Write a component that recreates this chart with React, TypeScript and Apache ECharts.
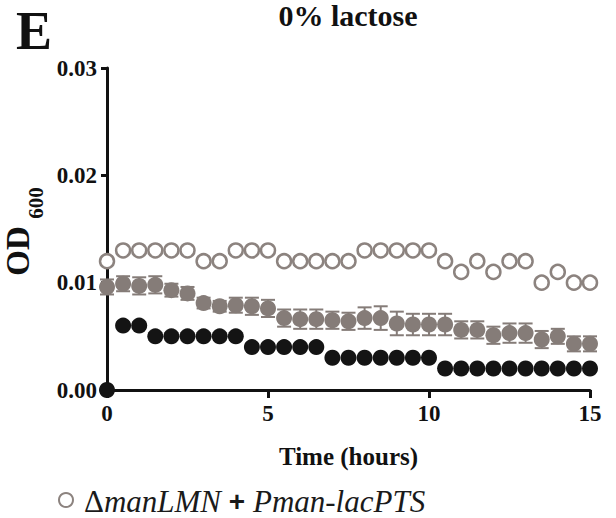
import React, { useEffect, useRef } from "react";
import * as echarts from "echarts";

const hours = [0, 0.5, 1, 1.5, 2, 2.5, 3, 3.5, 4, 4.5, 5, 5.5, 6, 6.5, 7, 7.5, 8, 8.5, 9, 9.5, 10, 10.5, 11, 11.5, 12, 12.5, 13, 13.5, 14, 14.5, 15];

const openValues = [0.012, 0.013, 0.013, 0.013, 0.013, 0.013, 0.012, 0.012, 0.013, 0.013, 0.013, 0.012, 0.012, 0.012, 0.012, 0.012, 0.013, 0.013, 0.013, 0.013, 0.013, 0.012, 0.011, 0.012, 0.011, 0.012, 0.012, 0.010, 0.011, 0.010, 0.010];

const grayMeans = [0.0096, 0.0099, 0.0097, 0.0098, 0.0093, 0.009, 0.0081, 0.0078, 0.0079, 0.0078, 0.0076, 0.0067, 0.0066, 0.0066, 0.0065, 0.0064, 0.0067, 0.0067, 0.0062, 0.0061, 0.0061, 0.0061, 0.0056, 0.0056, 0.0051, 0.0053, 0.0053, 0.0047, 0.005, 0.0043, 0.0043];

const grayErrors = [0.0007, 0.0007, 0.0008, 0.0008, 0.0006, 0.0006, 0.0005, 0.0005, 0.0007, 0.0008, 0.0008, 0.0008, 0.0009, 0.0009, 0.0008, 0.0008, 0.001, 0.0011, 0.0011, 0.001, 0.001, 0.001, 0.0008, 0.0008, 0.0008, 0.0009, 0.0009, 0.0008, 0.0007, 0.0007, 0.0007];

const blackValues = [0, 0.006, 0.006, 0.005, 0.005, 0.005, 0.005, 0.005, 0.005, 0.004, 0.004, 0.004, 0.004, 0.004, 0.003, 0.003, 0.003, 0.003, 0.003, 0.003, 0.003, 0.002, 0.002, 0.002, 0.002, 0.002, 0.002, 0.002, 0.002, 0.002, 0.002];

const xTicks = [0, 5, 10, 15];
const yTicks = [0, 0.01, 0.02, 0.03];

const SERIF = '"Liberation Serif", "Times New Roman", Times, serif';
const GRAY = "#857c78";
const OPEN = "#8c837f";
const BLACK = "#141414";

export default function App() {
  const ref = useRef<HTMLDivElement>(null);

  useEffect(() => {
    document.body.style.margin = "0";
    if (!ref.current) return;
    const chart = echarts.init(ref.current, undefined, { renderer: "svg" });
    const option: any = {
      animation: false,
      backgroundColor: "#ffffff",
      title: {
        text: "0% lactose",
        left: 348,
        textAlign: "center",
        top: 0,
        padding: 0,
        textStyle: { fontFamily: SERIF, fontWeight: "bold", fontSize: 30, color: "#111" },
      },
      grid: { left: 107, right: 26, top: 68, bottom: 128, containLabel: false },
      xAxis: {
        type: "value",
        min: xTicks[0],
        max: xTicks[xTicks.length - 1],
        interval: 5,
        name: "Time (hours)",
        nameLocation: "middle",
        nameGap: 54,
        nameTextStyle: { fontFamily: SERIF, fontWeight: "bold", fontSize: 25, color: "#111" },
        axisLine: { show: true, lineStyle: { color: "#111", width: 3 } },
        axisTick: { show: true, length: 8, lineStyle: { color: "#111", width: 3 } },
        axisLabel: { margin: 12, fontFamily: SERIF, fontWeight: "bold", fontSize: 23, color: "#111" },
        splitLine: { show: false },
      },
      yAxis: {
        type: "value",
        min: yTicks[0],
        max: yTicks[yTicks.length - 1],
        interval: 0.01,
        axisLine: { show: true, lineStyle: { color: "#111", width: 3 } },
        axisTick: { show: true, length: 6, lineStyle: { color: "#111", width: 3 } },
        axisLabel: {
          margin: 10,
          fontFamily: SERIF,
          fontWeight: "bold",
          fontSize: 23,
          color: "#111",
          formatter: (v: number) => v.toFixed(2),
        },
        splitLine: { show: false },
      },
      graphic: [
        {
          type: "text",
          left: 16,
          top: 4,
          style: { text: "E", font: `bold 54px ${SERIF}`, fill: "#111" },
        },
        {
          type: "text",
          x: 18,
          y: 251,
          rotation: Math.PI / 2,
          style: { text: "OD", font: `bold 33px ${SERIF}`, fill: "#111", align: "center", verticalAlign: "middle" },
        },
        {
          type: "text",
          x: 36,
          y: 203,
          rotation: Math.PI / 2,
          style: { text: "600", font: `bold 21px ${SERIF}`, fill: "#111", align: "center", verticalAlign: "middle" },
        },
        {
          type: "circle",
          shape: { cx: 66, cy: 500, r: 7 },
          style: { fill: "#fff", stroke: OPEN, lineWidth: 2 },
        },
        {
          type: "text",
          x: 84,
          y: 501,
          style: {
            text: "{d|Δ}{i|manLMN}{p| + }{i|Pman-lacPTS}",
            verticalAlign: "middle",
            align: "left",
            fill: "#1a1a1a",
            rich: {
              d: { fontFamily: SERIF, fontSize: 31, fill: "#1a1a1a" },
              i: { fontFamily: SERIF, fontStyle: "italic", fontSize: 31, fill: "#1a1a1a" },
              p: { fontFamily: '"Liberation Sans", Arial, sans-serif', fontWeight: "bold", fontSize: 28, fill: "#1a1a1a" },
            },
          },
        },
      ],
      series: [
        {
          type: "custom",
          name: "errors",
          clip: false,
          z: 2,
          data: hours.map((h, i) => [h, grayMeans[i] - grayErrors[i], grayMeans[i] + grayErrors[i]]),
          encode: { x: 0, y: [1, 2] },
          renderItem: (params: any, api: any) => {
            const x = api.value(0);
            const lo = api.coord([x, api.value(1)]);
            const hi = api.coord([x, api.value(2)]);
            const cw = 7;
            const st = { stroke: GRAY, lineWidth: 2 };
            return {
              type: "group",
              children: [
                { type: "line", shape: { x1: lo[0], y1: lo[1], x2: hi[0], y2: hi[1] }, style: st },
                { type: "line", shape: { x1: lo[0] - cw, y1: lo[1], x2: lo[0] + cw, y2: lo[1] }, style: st },
                { type: "line", shape: { x1: hi[0] - cw, y1: hi[1], x2: hi[0] + cw, y2: hi[1] }, style: st },
              ],
            };
          },
        },
        {
          type: "scatter",
          name: "gray",
          clip: false,
          z: 3,
          symbol: "circle",
          symbolSize: 16,
          itemStyle: { color: GRAY, opacity: 1 },
          data: hours.map((h, i) => [h, grayMeans[i]]),
        },
        {
          type: "scatter",
          name: "black",
          clip: false,
          z: 4,
          symbol: "circle",
          symbolSize: 16,
          itemStyle: { color: BLACK, opacity: 1 },
          data: hours.map((h, i) => [h, blackValues[i]]),
        },
        {
          type: "scatter",
          name: "ΔmanLMN + Pman-lacPTS",
          clip: false,
          z: 5,
          symbol: "circle",
          symbolSize: 14,
          itemStyle: { color: "#ffffff", borderColor: OPEN, borderWidth: 2.5, opacity: 1 },
          data: hours.map((h, i) => [h, openValues[i]]),
        },
      ],
    };
    chart.setOption(option);
    return () => chart.dispose();
  }, []);

  return <div ref={ref} style={{ width: 616, height: 518 }} />;
}
